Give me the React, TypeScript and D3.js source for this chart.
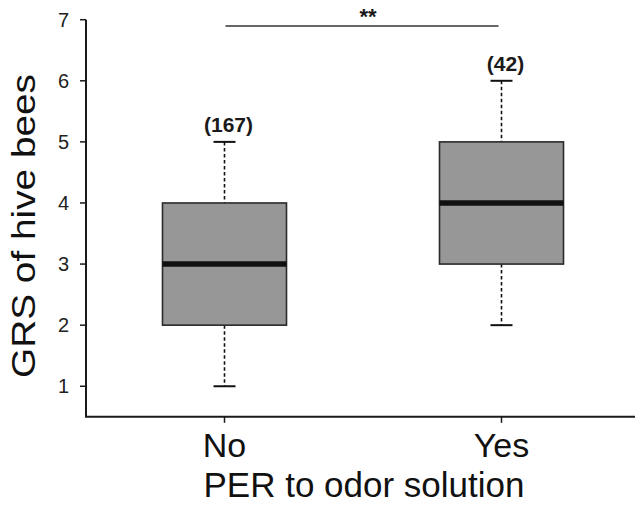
import React from "react";
import * as d3 from "d3";

// Box-plot summary per group
const categories = ["No", "Yes"];
const whiskerLow = [1, 2];
const q1 = [2, 3];
const median = [3, 4];
const q3 = [4, 5];
const whiskerHigh = [5, 6];
const sampleSizes = [167, 42];
const yTicks = [1, 2, 3, 4, 5, 6, 7];
const significance = "**";

const W = 635;
const H = 505;

export default function App() {
  const x = d3.scalePoint<string>().domain(categories).range([86, 640]).padding(0.5);
  const y = d3.scaleLinear().domain([0.5, 7]).range([416.8, 19.7]);

  const boxW = 124;
  const capW = 22;
  const font = "Liberation Sans, Arial, Helvetica, sans-serif";
  const axisColor = "#1a1a1a";

  return (
    <svg
      width={W}
      height={H}
      style={{ position: "absolute", left: 0, top: 0, background: "#fff" }}
      fontFamily={font}
    >
      {/* y axis */}
      <line x1={86} x2={86} y1={y(7)} y2={y(0.5)} stroke={axisColor} strokeWidth={2} />
      {yTicks.map((t) => (
        <g key={t}>
          <line x1={80} x2={86} y1={y(t)} y2={y(t)} stroke={axisColor} strokeWidth={1.5} />
          <text x={69} y={y(t)} dy="0.36em" textAnchor="end" fontSize={20} fill="#222">
            {t}
          </text>
        </g>
      ))}
      {/* x axis */}
      <line x1={85} x2={640} y1={y(0.5)} y2={y(0.5)} stroke={axisColor} strokeWidth={2} />
      {categories.map((c) => (
        <g key={c}>
          <line x1={x(c)!} x2={x(c)!} y1={y(0.5)} y2={y(0.5) + 6} stroke={axisColor} strokeWidth={1.5} />
          <text x={x(c)!} y={457} textAnchor="middle" fontSize={34} fill="#111">
            {c}
          </text>
        </g>
      ))}

      {/* boxes */}
      {categories.map((c, i) => {
        const cx = x(c)!;
        return (
          <g key={c}>
            <line
              x1={cx}
              x2={cx}
              y1={y(whiskerHigh[i])}
              y2={y(q3[i])}
              stroke="#111"
              strokeWidth={1.6}
              strokeDasharray="3.5,2.5"
            />
            <line
              x1={cx}
              x2={cx}
              y1={y(q1[i])}
              y2={y(whiskerLow[i])}
              stroke="#111"
              strokeWidth={1.6}
              strokeDasharray="3.5,2.5"
            />
            <line x1={cx - capW / 2} x2={cx + capW / 2} y1={y(whiskerHigh[i])} y2={y(whiskerHigh[i])} stroke="#111" strokeWidth={2} />
            <line x1={cx - capW / 2} x2={cx + capW / 2} y1={y(whiskerLow[i])} y2={y(whiskerLow[i])} stroke="#111" strokeWidth={2} />
            <rect
              x={cx - boxW / 2}
              y={y(q3[i])}
              width={boxW}
              height={y(q1[i]) - y(q3[i])}
              fill="#979797"
              stroke="#2a2a2a"
              strokeWidth={1.6}
            />
            <line x1={cx - boxW / 2} x2={cx + boxW / 2} y1={y(median[i])} y2={y(median[i])} stroke="#111" strokeWidth={5.5} />
            <text x={cx + 4} y={y(whiskerHigh[i]) - 10} textAnchor="middle" fontSize={21} fontWeight="bold" fill="#1a1a1a">
              {`(${sampleSizes[i]})`}
            </text>
          </g>
        );
      })}

      {/* significance bar */}
      <line x1={x("No")! + 1} x2={x("Yes")! - 3} y1={26} y2={26} stroke="#333" strokeWidth={1.6} />
      <text x={(x("No")! + x("Yes")!) / 2 + 5} y={24} textAnchor="middle" fontSize={22} fontWeight="bold" fill="#1a1a1a">
        {significance}
      </text>

      {/* axis titles */}
      <text
        transform={`translate(35,226) rotate(-90)`}
        textAnchor="middle"
        fontSize={33}
        fill="#111"
        textLength={304}
        lengthAdjust="spacingAndGlyphs"
      >
        GRS of hive bees
      </text>
      <text x={364} y={497} textAnchor="middle" fontSize={35} fill="#111">
        PER to odor solution
      </text>
    </svg>
  );
}
